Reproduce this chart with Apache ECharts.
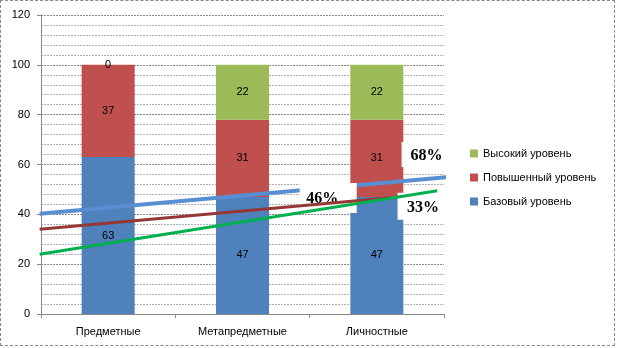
<!DOCTYPE html>
<html><head><meta charset="utf-8">
<script src="https://cdn.jsdelivr.net/npm/echarts@6/dist/echarts.min.js"></script>
<style>html,body{margin:0;padding:0;background:#fff}
#c{position:absolute;left:0;top:0;width:617px;height:348px}
#b{position:absolute;left:0;top:0;width:613px;height:344px;border:1px dashed #888;pointer-events:none}
</style></head><body>
<div id="c"></div><div id="b"></div>
<script>
const categories = ['Предметные', 'Метапредметные', 'Личностные'];
const baseLevel = [63, 47, 47];
const raisedLevel = [37, 31, 31];
const highLevel = [0, 22, 22];
// trend lines (x in category units, y in value units)
const blueLine = [[-0.51, 40.2], [2.53, 55.0]];
const redLine = [[-0.51, 34.0], [2.1, 46.7]];
const greenLine = [[-0.51, 24.0], [2.45, 49.5]];
// annotation boxes: [x, y, text]
const notes = [[2.348, 64.0, '68%'], [1.638, 46.6, '46%'], [2.329, 43.2, '33%']];
const noteSizes = [[44, 25], [57, 30], [47, 27]];
const noteOffsets = [[3, 1], [-6, 1], [2, 1]];

const chart = echarts.init(document.getElementById('c'));
const lbl = {show: true, position: 'inside', color: '#000', fontSize: 11, fontFamily: 'Liberation Sans'};
chart.setOption({
  animation: false,
  grid: {left: 41, right: 173, top: 15, bottom: 34},
  legend: {
    orient: 'vertical', left: 465, top: 143, itemWidth: 8, itemHeight: 8, itemGap: 13,
    icon: 'rect', data: ['Высокий уровень', 'Повышенный уровень', 'Базовый уровень'],
    textStyle: {fontSize: 11, color: '#000', fontFamily: 'Liberation Sans'}
  },
  xAxis: [{
    type: 'category', data: categories,
    axisLine: {lineStyle: {color: '#888'}},
    axisTick: {show: true, length: 4, lineStyle: {color: '#888'}},
    axisLabel: {color: '#000', fontSize: 11, margin: 12, fontFamily: 'Liberation Sans'}
  }, {
    type: 'value', min: -0.5, max: 2.5, show: false
  }],
  yAxis: {
    type: 'value', min: 0, max: 120, interval: 20,
    axisLine: {show: true, onZero: false, lineStyle: {color: '#888'}},
    axisTick: {show: true, length: 4, lineStyle: {color: '#888'}},
    axisLabel: {color: '#000', fontSize: 11, margin: 11, fontFamily: 'Liberation Sans'},
    splitLine: {lineStyle: {color: '#8a8a8a', type: [2, 1]}},
    minorTick: {show: true, splitNumber: 5, length: 0},
    minorSplitLine: {show: true, lineStyle: {color: '#b0b0b0', type: [2, 1]}}
  },
  series: [
    {name: 'Базовый уровень', type: 'bar', stack: 's', data: baseLevel, barWidth: 53,
     itemStyle: {color: '#4F81BD'}, label: lbl, z: 2},
    {name: 'Повышенный уровень', type: 'bar', stack: 's', data: raisedLevel,
     itemStyle: {color: '#C0504D'}, label: lbl, z: 2},
    {name: 'Высокий уровень', type: 'bar', stack: 's', data: highLevel,
     itemStyle: {color: '#9BBB59'}, label: lbl, z: 2},
    {name: 'blue', type: 'line', xAxisIndex: 1, data: blueLine, symbol: 'none', clip: false,
     lineStyle: {color: '#5A8ED3', width: 4}, z: 3},
    {name: 'notes', type: 'scatter', xAxisIndex: 1, clip: false,
     data: notes.map((n, i) => ({value: [n[0], n[1]], symbolSize: noteSizes[i],
       label: {formatter: n[2], offset: noteOffsets[i]}})),
     symbol: 'rect', itemStyle: {color: '#fff', opacity: 1},
     label: {show: true, position: 'inside', color: '#000', fontSize: 16, fontWeight: 'bold', fontFamily: 'Liberation Serif'},
     z: 4},
    {name: 'red', type: 'line', xAxisIndex: 1, data: redLine, symbol: 'none', clip: false,
     lineStyle: {color: '#953735', width: 3}, z: 5},
    {name: 'green', type: 'line', xAxisIndex: 1, data: greenLine, symbol: 'none', clip: false,
     lineStyle: {color: '#00B050', width: 3}, z: 5}
  ]
});
</script></body></html>
